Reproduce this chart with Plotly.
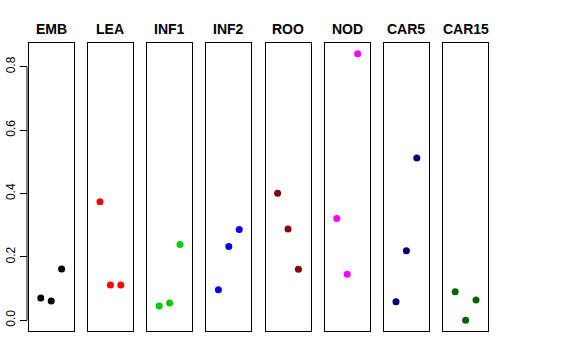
import plotly.graph_objects as go

categories = ["EMB", "LEA", "INF1", "INF2", "ROO", "NOD", "CAR5", "CAR15"]
colors = ["#000000", "#FF0000", "#00CD00", "#0000FF", "#8B0000", "#FF00FF", "#000080", "#006400"]
x_positions = [1, 2, 3]
values_EMB = [0.070, 0.061, 0.162]
values_LEA = [0.374, 0.111, 0.111]
values_INF1 = [0.045, 0.054, 0.239]
values_INF2 = [0.096, 0.233, 0.286]
values_ROO = [0.401, 0.288, 0.161]
values_NOD = [0.321, 0.145, 0.841]
values_CAR5 = [0.058, 0.219, 0.512]
values_CAR15 = [0.090, 0.000, 0.064]
series = [values_EMB, values_LEA, values_INF1, values_INF2, values_ROO, values_NOD, values_CAR5, values_CAR15]
y_ticks = [0.0, 0.2, 0.4, 0.6, 0.8]
y_tick_labels = ["0.0", "0.2", "0.4", "0.6", "0.8"]

W, H = 576, 360
font = "Liberation Sans, Arial, Helvetica, sans-serif"


def px(xp):
    return xp / W


def py(yp):
    return (H - yp) / H


fig = go.Figure()
layout = dict(
    width=W, height=H,
    margin=dict(l=0, r=0, t=0, b=0, pad=0, autoexpand=False),
    plot_bgcolor="white", paper_bgcolor="white",
    showlegend=False,
    font=dict(family=font, color="black"),
)

y_lo, y_hi = -0.034, 0.875
ydom = [py(331), py(43)]
annotations = []
for i, (cat, col, vals) in enumerate(zip(categories, colors, series)):
    n = i + 1
    left = 28.7 + i * 59.2
    right = left + 45.0
    xa = "xaxis" if n == 1 else f"xaxis{n}"
    ya = "yaxis" if n == 1 else f"yaxis{n}"
    xr = "x" if n == 1 else f"x{n}"
    yr = "y" if n == 1 else f"y{n}"
    fig.add_trace(go.Scatter(
        x=x_positions, y=vals, mode="markers", xaxis=xr, yaxis=yr,
        marker=dict(color=col, size=7, line=dict(width=0)),
        hoverinfo="skip",
    ))
    layout[xa] = dict(
        domain=[px(left), px(right)], anchor=yr, range=[-0.16, 4.16],
        showgrid=False, zeroline=False, showticklabels=False, ticks="",
        showline=True, mirror=True, linecolor="black", linewidth=1, automargin=False,
    )
    layout[ya] = dict(
        domain=ydom, anchor=xr, range=[y_lo, y_hi],
        showgrid=False, zeroline=False, showticklabels=False, ticks="",
        showline=True, mirror=True, linecolor="black", linewidth=1, automargin=False,
    )
    annotations.append(dict(
        x=px((left + right) / 2), y=py(29), xref="paper", yref="paper",
        text=f"<b>{cat}</b>", showarrow=False, xanchor="center", yanchor="middle",
        font=dict(size=14, family=font, color="black"),
    ))

# separate left axis with ticks (R-style axis)
layout["yaxis9"] = dict(
    domain=ydom, anchor="free", overlaying="y", position=px(27), side="left",
    range=[y_lo, y_hi], showgrid=False, zeroline=False, automargin=False,
    tickvals=y_ticks, ticktext=y_tick_labels, ticks="outside", ticklen=7,
    tickcolor="black", tickangle=-90, showline=False,
    tickfont=dict(size=12, family=font, color="black"),
)
fig.add_trace(go.Scatter(x=[None], y=[None], xaxis="x", yaxis="y9", mode="markers",
                         hoverinfo="skip"))
layout["annotations"] = annotations
layout["shapes"] = [dict(
    type="line", xref="paper", yref="y9", x0=px(27), x1=px(27),
    y0=y_ticks[0], y1=y_ticks[-1], line=dict(color="black", width=1),
)]
fig.update_layout(**layout)
fig.write_html("out.html", config={"displayModeBar": False},
               post_script="document.body.style.margin='0';")
